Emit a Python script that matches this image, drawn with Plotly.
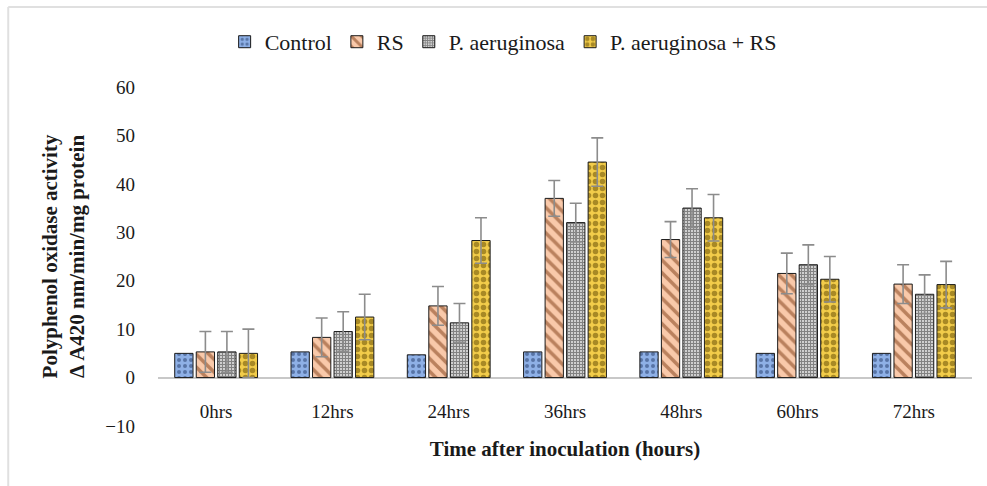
import plotly.graph_objects as go

categories = ["0hrs", "12hrs", "24hrs", "36hrs", "48hrs", "60hrs", "72hrs"]
series_names = ["Control", "RS", "P. aeruginosa", "P. aeruginosa + RS"]
control = [5.0, 5.3, 4.7, 5.3, 5.3, 5.0, 5.0]
rs = [5.3, 8.3, 14.8, 37.0, 28.5, 21.5, 19.3]
pa = [5.3, 9.5, 11.3, 32.0, 35.0, 23.3, 17.2]
pa_rs = [5.0, 12.5, 28.3, 44.5, 33.0, 20.3, 19.2]
control_err = [0, 0, 0, 0, 0, 0, 0]
rs_err = [4.2, 4.0, 4.0, 3.7, 3.7, 4.2, 4.0]
pa_err = [4.2, 4.1, 4.0, 4.0, 4.0, 4.1, 4.0]
pa_rs_err = [5.0, 4.7, 4.7, 5.0, 4.8, 4.7, 4.8]
y_ticks = [-10, 0, 10, 20, 30, 40, 50, 60]

styles = [
    dict(bg="#8eb0e6", fg="#1f3864", shape=".", size=6, sol=0.35),
    dict(bg="#f9c9aa", fg="#7b3a12", shape="\\", size=9, sol=0.4),
    dict(bg="#cfcfcf", fg="#333333", shape="+", size=3, sol=0.55),
    dict(bg="#f2cc4a", fg="#5e4500", shape=".", size=7, sol=0.5),
]
values = [control, rs, pa, pa_rs]
errors = [control_err, rs_err, pa_err, pa_rs_err]

fig = go.Figure()
for name, vals, errs, st in zip(series_names, values, errors, styles):
    has_err = any(e > 0 for e in errs)
    fig.add_trace(go.Bar(
        x=categories, y=vals, name=name,
        marker=dict(
            color=st["bg"],
            line=dict(color="#1a1a1a", width=1),
            pattern=dict(shape=st["shape"], fgcolor=st["fg"], bgcolor=st["bg"],
                         size=st["size"], solidity=st["sol"], fillmode="overlay"),
        ),
        error_y=dict(type="data", array=errs, visible=has_err,
                     color="#8c8c8c", thickness=1.6, width=6),
    ))

font_family = "Liberation Serif"
fig.update_layout(
    width=987, height=486,
    margin=dict(l=158, r=15, t=87, b=60),
    paper_bgcolor="white", plot_bgcolor="white",
    barmode="group", bargap=0.26, bargroupgap=0.15,
    font=dict(family=font_family, size=19, color="#1a1a1a"),
    legend=dict(orientation="h", x=0.424, xanchor="center", y=1.133, yanchor="middle",
                font=dict(size=22, family=font_family), itemwidth=30,
                traceorder="normal", itemclick=False),
    showlegend=True,
    xaxis=dict(showline=False, showgrid=False, ticks="", ticklabelstandoff=-28,
               tickfont=dict(size=19),
               title=dict(text="<b>Time after inoculation (hours)</b>",
                          font=dict(size=21), standoff=20)),
    yaxis=dict(range=[-10, 60], tickvals=y_ticks, showgrid=False, showline=False,
               zeroline=True, zerolinecolor="#c8c8c8", zerolinewidth=2,
               ticks="", tickfont=dict(size=19), ticklabelstandoff=22,
               title=dict(text="<b>Polyphenol oxidase activity<br>Δ A420 nm/min/mg protein</b>",
                          font=dict(size=21), standoff=14)),
    shapes=[
        dict(type="line", xref="paper", yref="paper", x0=-0.184, x1=-0.184,
             y0=-0.2, y1=1.236, line=dict(color="#e0e0e0", width=2)),
        dict(type="line", xref="paper", yref="paper", x0=-0.184, x1=1.02,
             y0=1.236, y1=1.236, line=dict(color="#e0e0e0", width=2)),
    ],
)

fig.write_html("out.html")
